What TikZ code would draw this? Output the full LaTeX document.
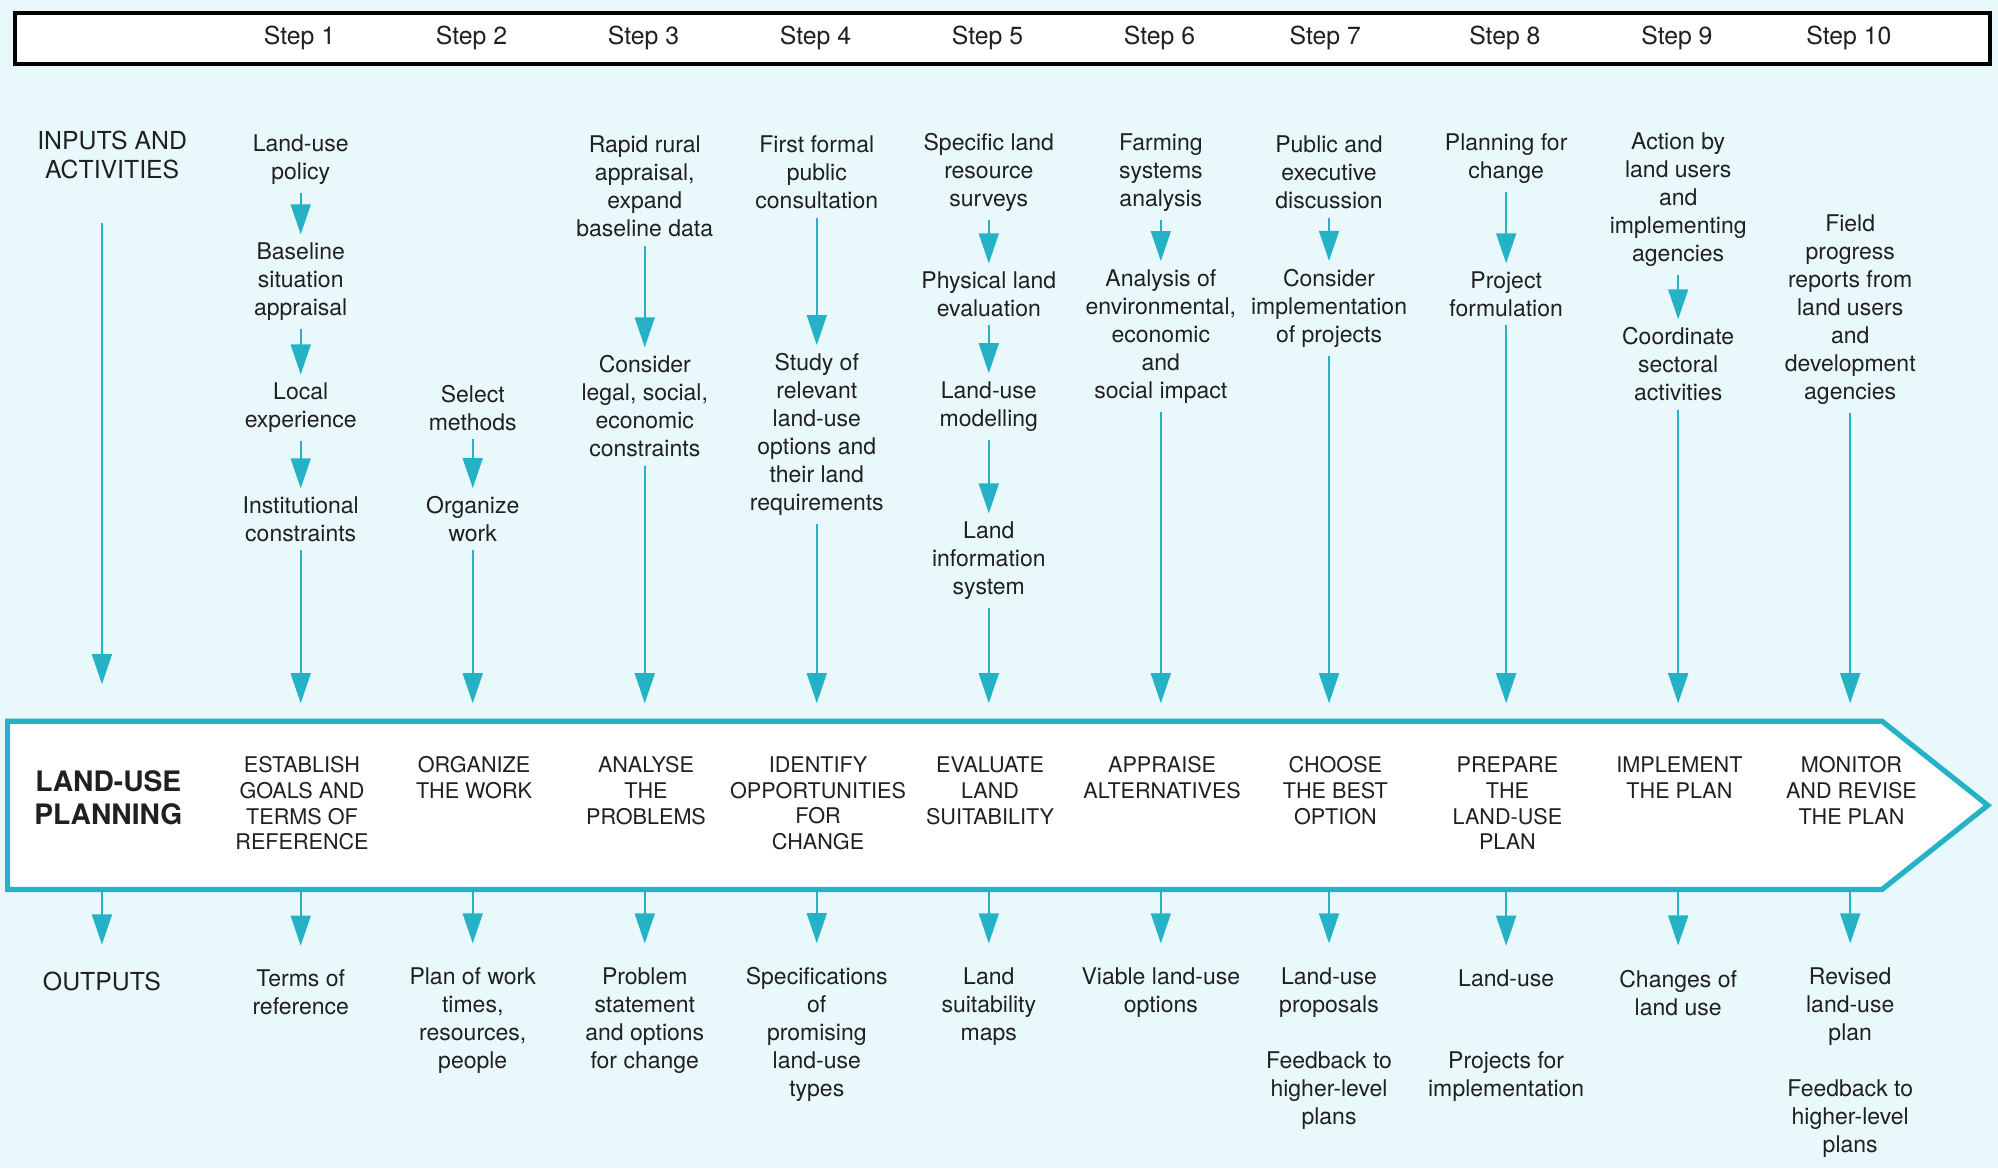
\documentclass[tikz,border=0pt]{standalone}
\usepackage{fontspec}
\setmainfont{TeX Gyre Heros}
\usetikzlibrary{arrows.meta}
\definecolor{paper}{RGB}{233,248,250}
\definecolor{flowcyan}{RGB}{38,178,198}
\definecolor{ink}{RGB}{32,32,32}
\tikzset{
  flow/.style={draw=flowcyan, line width=0.8pt, -{Triangle[width=10pt,length=15pt]}},
  toplan/.style={flow, shorten >=9pt},
  fromplan/.style={flow, shorten >=8pt},
  txt/.style={font=\fontsize{11.5}{14}\selectfont, align=center, text=ink, inner sep=4pt},
  stage/.style={font=\fontsize{10.8}{12.9}\selectfont, align=center, text=ink, inner sep=4pt},
  head/.style={font=\fontsize{12.4}{14.7}\selectfont, align=center, text=ink, inner sep=4pt}
}
\begin{document}
\begin{tikzpicture}[x=0.6371pt, y=-0.6371pt]
      \useasboundingbox (0,0) rectangle (1568,917);
      \fill [paper] (0,0) rectangle (1568,917);
      \draw [line width=2pt, fill=white] (12,10) rectangle (1562,50);
      \node [head] (s1) at (235,30) {Step 1};
      \node [head] (s2) at (370,30) {Step 2};
      \node [head] (s3) at (505,30) {Step 3};
      \node [head] (s4) at (640,30) {Step 4};
      \node [head] (s5) at (775,30) {Step 5};
      \node [head] (s6) at (910,30) {Step 6};
      \node [head] (s7) at (1040,30) {Step 7};
      \node [head] (s8) at (1181,30) {Step 8};
      \node [head] (s9) at (1316,30) {Step 9};
      \node [head] (s10) at (1451,30) {Step 10};
      \draw [draw=flowcyan, line width=2.6pt, fill=white]
      (6,566) --
      (1477,566) --
      (1560,632) --
      (1477,698) --
      (6,698) -- cycle;
      \coordinate (t0) at (80,566);   \coordinate (b0) at (80,698);
      \coordinate (t1) at (236,566);  \coordinate (b1) at (236,698);
      \coordinate (t2) at (371,566);  \coordinate (b2) at (371,698);
      \coordinate (t3) at (506,566);  \coordinate (b3) at (506,698);
      \coordinate (t4) at (641,566);  \coordinate (b4) at (641,698);
      \coordinate (t5) at (776,566);  \coordinate (b5) at (776,698);
      \coordinate (t6) at (911,566);  \coordinate (b6) at (911,698);
      \coordinate (t7) at (1043,566); \coordinate (b7) at (1043,698);
      \coordinate (t8) at (1182,566); \coordinate (b8) at (1182,698);
      \coordinate (t9) at (1317,566); \coordinate (b9) at (1317,698);
      \coordinate (t10) at (1452,566); \coordinate (b10) at (1452,698);
      % inputs and activities
      \node [head] (inputs) at (88,121.5) {INPUTS AND\\ACTIVITIES};
      \node [txt] (in1a) at (236,125) {Land-use\\policy};
      \node [txt] (in1b) at (236,221) {Baseline\\situation\\appraisal};
      \node [txt] (in1c) at (236,320) {Local\\experience};
      \node [txt] (in1d) at (236,407.5) {Institutional\\constraints};
      \node [txt] (in2a) at (371,320) {Select\\methods};
      \node [txt] (in2b) at (371,407.5) {Organize\\work};
      \node [txt] (in3a) at (506,146.5) {Rapid rural\\appraisal,\\expand\\baseline data};
      \node [txt] (in3b) at (506,319) {Consider\\legal, social,\\economic\\constraints};
      \node [txt] (in4a) at (641,135.5) {First formal\\public\\consultation};
      \node [txt] (in4b) at (641,341) {Study of\\relevant\\land-use\\options and\\their land\\requirements};
      \node [txt] (in5a) at (776,135.5) {Specific land\\resource\\surveys};
      \node [txt] (in5b) at (776,231) {Physical land\\evaluation};
      \node [txt] (in5c) at (776,319) {Land-use\\modelling};
      \node [txt] (in5d) at (776,440) {Land\\information\\system};
      \node [txt] (in6a) at (911,135.5) {Farming\\systems\\analysis};
      \node [txt] (in6b) at (911,264) {Analysis of\\environmental,\\economic\\and\\social impact};
      \node [txt] (in7a) at (1043,135.5) {Public and\\executive\\discussion};
      \node [txt] (in7b) at (1043,242) {Consider\\implementation\\of projects};
      \node [txt] (in8a) at (1182,124.5) {Planning for\\change};
      \node [txt] (in8b) at (1182,231) {Project\\formulation};
      \node [txt] (in9a) at (1317,157) {Action by\\land users\\and\\implementing\\agencies};
      \node [txt] (in9b) at (1317,286) {Coordinate\\sectoral\\activities};
      \node [txt] (in10a) at (1452,243) {Field\\progress\\reports from\\land users\\and\\development\\agencies};
      \draw [flow, shorten <=18pt, shorten >=18.5pt] (inputs.south -| t0) -- (t0);
      \draw [flow] (in1a) -- (in1b);
      \draw [flow] (in1b) -- (in1c);
      \draw [flow] (in1c) -- (in1d);
      \draw [toplan] (in1d) -- (t1);
      \draw [flow] (in2a) -- (in2b);
      \draw [toplan] (in2b) -- (t2);
      \draw [flow] (in3a) -- (in3b);
      \draw [toplan] (in3b) -- (t3);
      \draw [flow] (in4a) -- (in4b);
      \draw [toplan] (in4b) -- (t4);
      \draw [flow] (in5a) -- (in5b);
      \draw [flow] (in5b) -- (in5c);
      \draw [flow] (in5c) -- (in5d);
      \draw [toplan] (in5d) -- (t5);
      \draw [flow] (in6a) -- (in6b);
      \draw [toplan] (in6b) -- (t6);
      \draw [flow] (in7a) -- (in7b);
      \draw [toplan] (in7b) -- (t7);
      \draw [flow] (in8a) -- (in8b);
      \draw [toplan] (in8b) -- (t8);
      \draw [flow] (in9a) -- (in9b);
      \draw [toplan] (in9b) -- (t9);
      \draw [toplan] (in10a) -- (t10);
      % land-use planning
      \node [font=\fontsize{14.1}{16.6}\selectfont\bfseries, align=center, text=ink] (plan) at (85,626) {LAND-USE\\PLANNING};
      \node [stage] (st1) at (237,630.5) {ESTABLISH\\GOALS AND\\TERMS OF\\REFERENCE};
      \node [stage] (st2) at (372,610) {ORGANIZE\\THE WORK};
      \node [stage] (st3) at (507,620.5) {ANALYSE\\THE\\PROBLEMS};
      \node [stage] (st4) at (642,630.5) {IDENTIFY\\OPPORTUNITIES\\FOR\\CHANGE};
      \node [stage] (st5) at (777,620.5) {EVALUATE\\LAND\\SUITABILITY};
      \node [stage] (st6) at (912,610) {APPRAISE\\ALTERNATIVES};
      \node [stage] (st7) at (1048,620.5) {CHOOSE\\THE BEST\\OPTION};
      \node [stage] (st8) at (1183,630.5) {PREPARE\\THE\\LAND-USE\\PLAN};
      \node [stage] (st9) at (1318,610) {IMPLEMENT\\THE PLAN};
      \node [stage] (st10) at (1453,620.5) {MONITOR\\AND REVISE\\THE PLAN};
      % outputs
      \node [head] (outputs) at (80,770) {OUTPUTS};
      \node [txt] (out1) at (236,779) {Terms of\\reference};
      \node [txt] (out2) at (371,801) {Plan of work\\times,\\resources,\\people};
      \node [txt] (out3) at (506,801) {Problem\\statement\\and options\\for change};
      \node [txt] (out4) at (641,812) {Specifications\\of\\promising\\land-use\\types};
      \node [txt] (out5) at (776,790) {Land\\suitability\\maps};
      \node [txt] (out6) at (911,779) {Viable land-use\\options};
      \node [txt] (out7) at (1043,779) {Land-use\\proposals};
      \node [txt] (out7b) at (1043,856) {Feedback to\\higher-level\\plans};
      \node [txt] (out8) at (1182,768) {Land-use};
      \node [txt] (out8b) at (1182,845) {Projects for\\implementation};
      \node [txt] (out9) at (1317,779) {Changes of\\land use};
      \node [txt] (out10) at (1452,790) {Revised\\land-use\\plan};
      \node [txt] (out10b) at (1452,878) {Feedback to\\higher-level\\plans};
      \draw [flow, shorten >=9.4pt] (b0) -- (outputs);
      \draw [fromplan] (b1) -- (out1);
      \draw [fromplan] (b2) -- (out2);
      \draw [fromplan] (b3) -- (out3);
      \draw [fromplan] (b4) -- (out4);
      \draw [fromplan] (b5) -- (out5);
      \draw [fromplan] (b6) -- (out6);
      \draw [fromplan] (b7) -- (out7);
      \draw [fromplan] (b8) -- (out8);
      \draw [fromplan] (b9) -- (out9);
      \draw [fromplan] (b10) -- (out10);
    \end{tikzpicture}
\end{document}
